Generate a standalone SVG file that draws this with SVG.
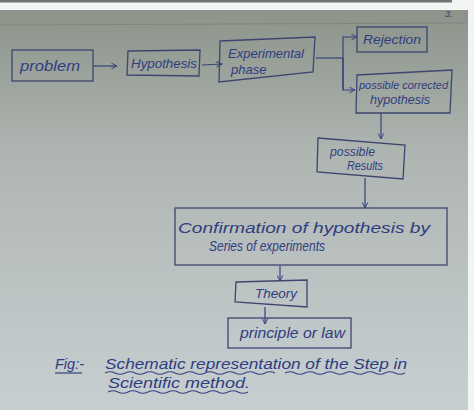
<svg xmlns="http://www.w3.org/2000/svg" width="474" height="410" viewBox="0 0 474 410">
<defs>
<linearGradient id="paper" x1="0" y1="0" x2="0" y2="1">
<stop offset="0" stop-color="#8c9389"/>
<stop offset="0.35" stop-color="#aeb5b1"/>
<stop offset="1" stop-color="#c8cfd2"/>
</linearGradient>
<marker id="ah" viewBox="0 0 10 10" refX="9" refY="5" markerWidth="7" markerHeight="7" orient="auto" markerUnits="userSpaceOnUse">
<path d="M1,1 L9,5 L1,9" fill="none" stroke="#35427e" stroke-width="1.4"/>
</marker>
<style>
.box{fill:none;stroke:#3d4570;stroke-width:1.3}
.t{font-family:"Liberation Sans",Arial,sans-serif;font-style:italic;fill:#2f3d80}
.c{stroke:#35427e;stroke-width:1.2;fill:none}
</style>
</defs>
<rect width="474" height="410" fill="#f3f4f4"/>
<rect x="0" y="0" width="452" height="2.5" fill="#6f7474"/>
<rect x="0" y="10" width="468" height="400" fill="url(#paper)"/>
<line x1="0" y1="25" x2="466" y2="23" stroke="#7b8278" stroke-width="0.8"/>
<text x="445" y="17" class="t" font-size="9" fill="#3a3f4a">3.</text>

<g id="connectors">
<line class="c" x1="94" y1="66" x2="117" y2="66" marker-end="url(#ah)"/>
<line class="c" x1="202" y1="65" x2="222" y2="64" marker-end="url(#ah)"/>
<line class="c" x1="316" y1="58" x2="343" y2="58"/>
<path class="c" d="M343,90 L343,37 L357,37" marker-end="url(#ah)"/>
<path class="c" d="M343,58 L343,90 L355,90" marker-end="url(#ah)"/>
<line class="c" x1="381" y1="113" x2="381" y2="139" marker-end="url(#ah)"/>
<line class="c" x1="365" y1="178" x2="365" y2="208" marker-end="url(#ah)"/>
<line class="c" x1="280" y1="266" x2="280" y2="281" marker-end="url(#ah)"/>
<line class="c" x1="265" y1="307" x2="265" y2="324" marker-end="url(#ah)"/>
</g>

<g id="problem">
<rect class="box" x="12" y="50" width="81" height="31"/>
<text class="t" x="20" y="71" font-size="15" textLength="60" lengthAdjust="spacingAndGlyphs">problem</text>
</g>
<g id="hypothesis">
<polygon class="box" points="128,51 200,50 199,76 127,75"/>
<text class="t" x="131" y="68" font-size="13" textLength="66" lengthAdjust="spacingAndGlyphs">Hypothesis</text>
</g>
<g id="experimental">
<polygon class="box" points="220,41 315,37 313,72 219,82"/>
<text class="t" x="228" y="58" font-size="12" textLength="76" lengthAdjust="spacingAndGlyphs">Experimental</text>
<text class="t" x="231" y="74" font-size="13">phase</text>
</g>
<g id="rejection">
<rect class="box" x="357" y="27" width="70" height="25"/>
<text class="t" x="363" y="44" font-size="13" textLength="58" lengthAdjust="spacingAndGlyphs">Rejection</text>
</g>
<g id="corrected">
<polygon class="box" points="357,75 452,70 450,113 356,113"/>
<text class="t" x="359" y="89" font-size="11" textLength="89" lengthAdjust="spacingAndGlyphs">possible corrected</text>
<text class="t" x="370" y="104" font-size="12.5" textLength="60" lengthAdjust="spacingAndGlyphs">hypothesis</text>
</g>
<g id="results">
<polygon class="box" points="318,138 405,145 403,179 317,172"/>
<text class="t" x="330" y="156" font-size="12.5" textLength="45" lengthAdjust="spacingAndGlyphs">possible</text>
<text class="t" x="347" y="170" font-size="12" textLength="36" lengthAdjust="spacingAndGlyphs">Results</text>
</g>
<g id="confirmation">
<rect class="box" x="175" y="208" width="272" height="57"/>
<text class="t" x="178" y="233" font-size="15.5" textLength="252" lengthAdjust="spacingAndGlyphs">Confirmation of hypothesis by</text>
<text class="t" x="209" y="251" font-size="14" textLength="116" lengthAdjust="spacingAndGlyphs">Series of experiments</text>
</g>
<g id="theory">
<polygon class="box" points="236,282 307,280 307,307 235,302"/>
<text class="t" x="255" y="298" font-size="13.5" textLength="42" lengthAdjust="spacingAndGlyphs">Theory</text>
</g>
<g id="principle">
<rect class="box" x="228" y="318" width="123" height="30"/>
<text class="t" x="240" y="338" font-size="14" textLength="105" lengthAdjust="spacingAndGlyphs">principle or law</text>
</g>
<g id="caption">
<text class="t" x="55" y="369" font-size="14.5">Fig:-</text>
<text class="t" x="105" y="369" font-size="14.5" textLength="302" lengthAdjust="spacingAndGlyphs">Schematic representation of the Step in</text>
<text class="t" x="108" y="388" font-size="14.5" textLength="142" lengthAdjust="spacingAndGlyphs">Scientific method.</text>
<line class="c" x1="55" y1="373" x2="82" y2="373"/>
<path class="c" d="M105,373 q5,-2.5 10,0 t10,0 t10,0 t10,0 t10,0 t10,0 t10,0 t10,0 t10,0 t10,0 t10,0 t10,0 t10,0 t10,0 t10,0 t10,0 t10,0" stroke-width="0.8"/>
<path class="c" d="M285,373 q5,-2.5 10,0 t10,0 t10,0 t10,0 t10,0 t10,0 t10,0 t10,0 t10,0 t10,0 t10,0 t10,0" stroke-width="0.8"/>
<path class="c" d="M108,392 q5,-2.5 10,0 t10,0 t10,0 t10,0 t10,0 t10,0 t10,0 t10,0 t10,0 t10,0 t10,0 t10,0 t10,0 t10,0" stroke-width="0.8"/>
</g>
</svg>
